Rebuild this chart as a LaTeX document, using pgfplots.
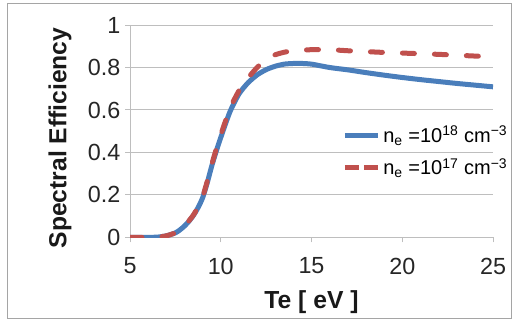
\documentclass[border=0pt]{standalone}
\usepackage{fontspec}
\setmainfont{Liberation Sans}
\usepackage{pgfplots}
\pgfplotsset{compat=1.18}
\definecolor{xlblue}{RGB}{74,126,187}
\definecolor{xlred}{RGB}{192,80,77}
\definecolor{gridgray}{RGB}{190,190,190}
\definecolor{bordergray}{RGB}{165,165,165}
\pgfplotsset{
  solidlegend/.style={legend image code/.code={\draw[##1] (0pt,0pt) -- (25pt,0pt);}},
  dashlegend/.style={legend image code/.code={\draw[##1, line cap=butt, dash pattern=on 10.5pt off 3.75pt] (0pt,0pt) -- (25pt,0pt);}},
}
\begin{document}
\begin{tikzpicture}[x=1pt,y=1pt]
\useasboundingbox (0,0) rectangle (384.75,240);
\draw[bordergray, line width=0.75pt] (5.25,1.1) rectangle (383.6,237);
\begin{axis}[
  at={(97.5pt,62pt)}, anchor=south west,
  scale only axis, width=272.25pt, height=159.2pt,
  xmin=5, xmax=25, ymin=0, ymax=1,
  xtick={5,10,15,20,25}, ytick={0,0.2,0.4,0.6,0.8,1},
  axis x line=bottom, axis y line=left,
  axis line style={-, gridgray, line width=0.75pt},
  tick style={gridgray, line width=0.75pt},
  tick align=outside, major tick length=3.75pt,
  ymajorgrids, grid style={gridgray, line width=0.75pt},
  /pgf/number format/assume math mode=true,
  tick label style={font=\fontsize{17.5}{20}\selectfont, text=black!85},
  xticklabel style={yshift=-8pt},
  xlabel={Te [ eV ]}, ylabel={Spectral Efficiency},
  label style={font=\fontsize{18.5}{21}\selectfont\bfseries, text=black!90},
  x label style={at={(axis description cs:0.5,-0.303)}, anchor=center},
  y label style={at={(axis description cs:-0.193,0.468)}, anchor=center},
  legend style={draw=none, fill=none, at={(axis cs:16.68,0.404)}, anchor=west,
    font=\fontsize{15}{18}\selectfont, row sep=6pt, inner sep=0pt},
  legend cell align=left,
]
\addplot[xlblue, line width=3.75pt, smooth, tension=0.4, solidlegend] coordinates {
(5,0) (5.5,0) (6,0) (6.5,0.001) (7,0.007) (7.5,0.021) (7.75,0.035) (8,0.053) (8.25,0.076) (8.5,0.104) (8.75,0.14) (9,0.186) (9.25,0.255) (9.5,0.335) (9.75,0.405) (10,0.47) (10.5,0.59) (11,0.675) (11.5,0.728) (12,0.765) (12.5,0.79) (13,0.806) (13.5,0.816) (14,0.819) (14.5,0.819) (15,0.816) (16,0.80) (17,0.789) (18,0.776) (19,0.764) (20,0.753) (21,0.743) (22,0.734) (23,0.725) (24,0.717) (25,0.709)
};
\addlegendentry{n\textsubscript{e} =10\textsuperscript{18} cm\textsuperscript{−3}}
\addplot[xlred, line width=3.75pt, smooth, tension=0.4, line cap=round, dash pattern=on 9pt off 15pt, dashlegend] coordinates {
(5,0) (5.5,0) (6,0) (6.5,0.001) (7,0.007) (7.5,0.021) (7.75,0.036) (8,0.054) (8.25,0.078) (8.5,0.106) (8.75,0.143) (9,0.19) (9.25,0.262) (9.5,0.342) (9.75,0.415) (10,0.482) (10.5,0.605) (11,0.69) (11.5,0.75) (12,0.80) (12.5,0.838) (13,0.86) (13.5,0.872) (14,0.879) (15,0.884) (16,0.884) (17,0.879) (18,0.875) (19,0.871) (20,0.868) (21,0.865) (22,0.862) (23,0.858) (24,0.854) (25,0.851)
};
\addlegendentry{n\textsubscript{e} =10\textsuperscript{17} cm\textsuperscript{−3}}
\end{axis}
\end{tikzpicture}
\end{document}
